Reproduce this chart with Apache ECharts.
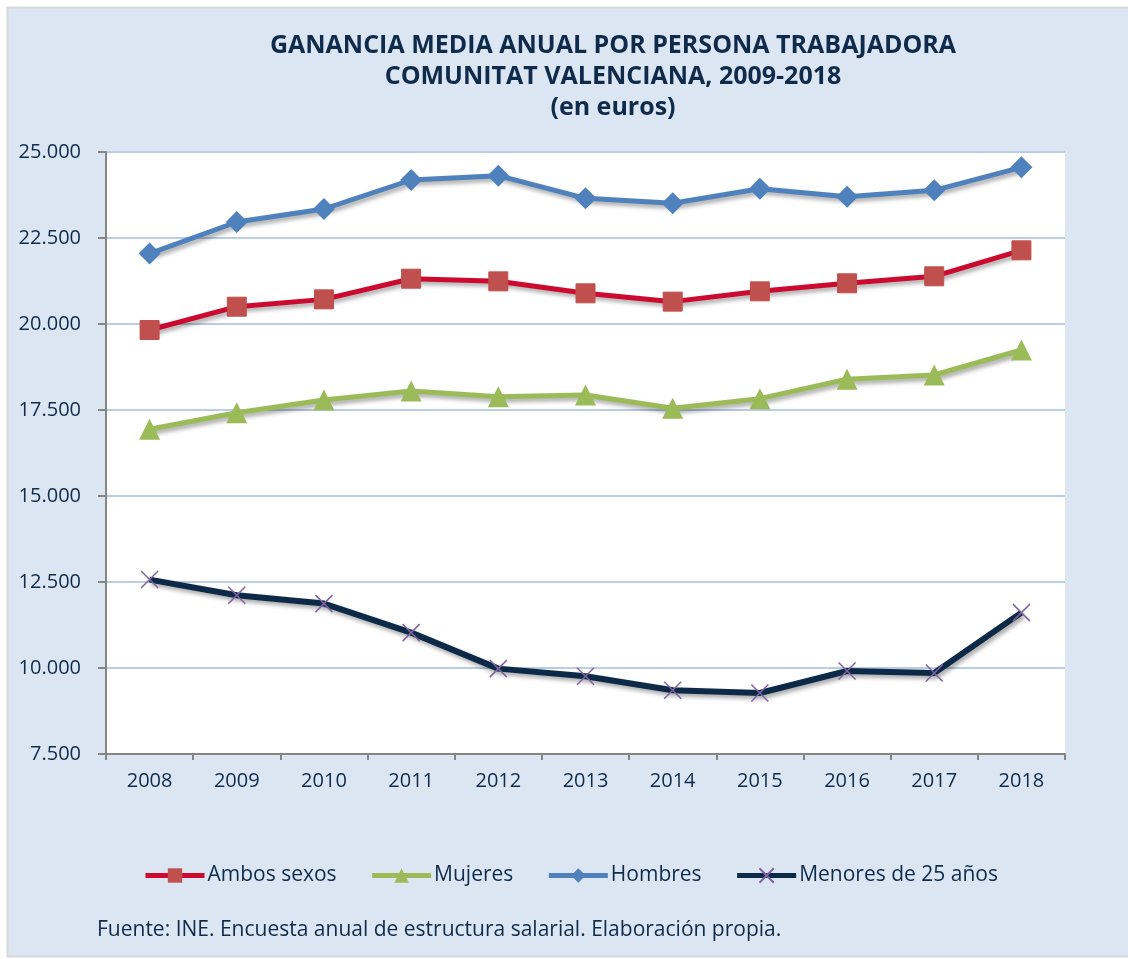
<!DOCTYPE html>
<html>
<head>
<meta charset="utf-8">
<script src="https://cdn.jsdelivr.net/npm/echarts@6/dist/echarts.min.js"></script>
<style>
  html, body { margin: 0; padding: 0; background: #ffffff; }
  #main { width: 1128px; height: 959px; }
</style>
</head>
<body>
<div id="main"></div>
<script>
var years = ['2008', '2009', '2010', '2011', '2012', '2013', '2014', '2015', '2016', '2017', '2018'];
var ambosSexos = [19826, 20503, 20716, 21317, 21240, 20892, 20650, 20950, 21183, 21387, 22142];
var mujeres = [16939, 17422, 17791, 18052, 17887, 17936, 17549, 17829, 18393, 18517, 19244];
var hombres = [22047, 22965, 23343, 24186, 24311, 23654, 23508, 23934, 23701, 23886, 24555];
var menores25 = [12570, 12114, 11872, 11029, 9982, 9759, 9352, 9273, 9913, 9855, 11610];

var textColor = '#0f2b4c';
var font = 'Open Sans';

var dom = document.getElementById('main');
var myChart = echarts.init(dom);

function lineShadow(color, width) {
    return {
        color: color,
        width: width,
        shadowColor: 'rgba(0, 0, 0, 0.35)',
        shadowBlur: 4,
        shadowOffsetX: 2,
        shadowOffsetY: 3
    };
}

var option = {
    backgroundColor: '#ffffff',
    animation: false,
    graphic: [
        {
            type: 'rect',
            z: -10,
            shape: { x: 7.5, y: 7.5, width: 1130, height: 949 },
            style: { fill: '#dce6f2', stroke: '#d9d9d9', lineWidth: 2 }
        },
        {
            type: 'text',
            left: 97,
            top: 920,
            style: {
                text: 'Fuente: INE. Encuesta anual de estructura salarial. Elaboración propia.',
                fill: textColor,
                font: '21px "' + font + '"'
            }
        }
    ],
    title: {
        text: 'GANANCIA MEDIA ANUAL POR PERSONA TRABAJADORA\nCOMUNITAT VALENCIANA, 2009-2018\n(en euros)',
        left: 608,
        textAlign: 'center',
        top: 25,
        textStyle: {
            color: textColor,
            fontFamily: font,
            fontWeight: 'bold',
            fontSize: 25,
            lineHeight: 31
        }
    },
    legend: {
        left: 138,
        top: 860,
        itemWidth: 59,
        itemHeight: 18,
        itemGap: 33,
        data: ['Ambos sexos', 'Mujeres', 'Hombres', 'Menores de 25 años'],
        lineStyle: { width: 5, shadowBlur: 0, shadowOffsetX: 0, shadowOffsetY: 0 },
        textStyle: {
            color: textColor,
            fontFamily: font,
            fontSize: 21,
            padding: [0, 0, 0, -2]
        }
    },
    grid: {
        left: 106,
        right: 63,
        top: 152,
        bottom: 205,
        show: true,
        backgroundColor: '#ffffff',
        borderWidth: 0
    },
    xAxis: {
        type: 'category',
        data: years,
        boundaryGap: true,
        axisLine: { lineStyle: { color: '#868686', width: 2 } },
        axisTick: { show: true, length: 6, lineStyle: { color: '#868686', width: 2 } },
        axisLabel: {
            color: textColor,
            fontFamily: font,
            fontSize: 20,
            margin: 17
        }
    },
    yAxis: {
        type: 'value',
        min: 7500,
        max: 25000,
        interval: 2500,
        axisLine: { show: true, lineStyle: { color: '#868686', width: 2 } },
        axisTick: { show: true, length: 8, lineStyle: { color: '#868686', width: 2 } },
        splitLine: { lineStyle: { color: '#b9cde5', width: 2 } },
        axisLabel: {
            color: textColor,
            fontFamily: font,
            fontSize: 20,
            margin: 25,
            formatter: function (v) { return (v / 1000).toFixed(3); }
        }
    },
    series: [
        {
            name: 'Ambos sexos',
            type: 'line',
            data: ambosSexos,
            symbol: 'rect',
            symbolSize: 19,
            lineStyle: lineShadow('#cc0a2f', 5),
            itemStyle: { color: '#c0504d', borderColor: '#c0504d' },
            z: 4
        },
        {
            name: 'Mujeres',
            type: 'line',
            data: mujeres,
            symbol: 'triangle',
            symbolSize: 21,
            lineStyle: lineShadow('#9bbb59', 5),
            itemStyle: { color: '#9bbb59' },
            z: 3
        },
        {
            name: 'Hombres',
            type: 'line',
            data: hombres,
            symbol: 'diamond',
            symbolSize: 22,
            lineStyle: lineShadow('#4f81bd', 5),
            itemStyle: { color: '#4f81bd' },
            z: 5
        },
        {
            name: 'Menores de 25 años',
            type: 'line',
            data: menores25,
            symbol: 'path://M0,0 L10,10 M10,0 L0,10',
            symbolSize: 17,
            lineStyle: lineShadow('#0c2a47', 6),
            itemStyle: { color: 'none', borderColor: '#8064a2', borderWidth: 1.5 },
            z: 2
        }
    ]
};

if (option && typeof option === 'object') {
    myChart.setOption(option, true);
}
</script>
</body>
</html>
